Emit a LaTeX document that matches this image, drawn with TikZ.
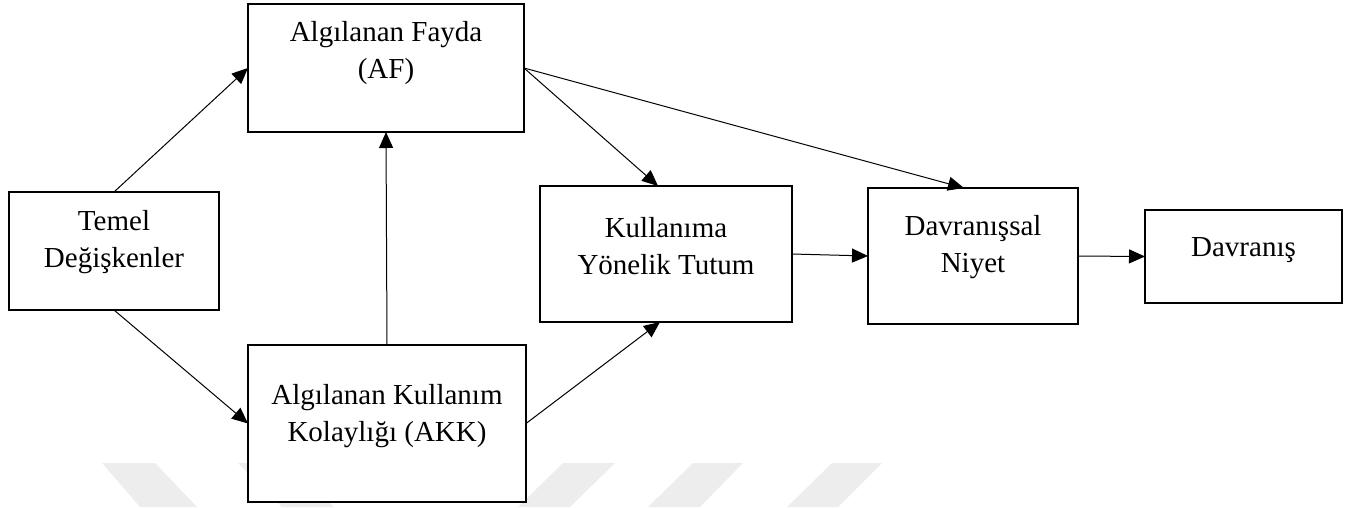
\documentclass[tikz,border=0pt]{standalone}
\usepackage{fontspec}
\setmainfont{Liberation Serif}
\usetikzlibrary{arrows.meta}
\begin{document}
\begin{tikzpicture}[x=1pt,y=1pt,
  box/.style={draw=black,line width=1.5pt,fill=white,rectangle,inner sep=0pt,outer sep=0pt},
  txt/.style={align=center,inner sep=0pt,font=\fontsize{29pt}{37pt}\selectfont},
  conn/.style={line width=1pt,-{Triangle[length=16pt,width=14pt]}},
  wmark/.style={fill=black!7,draw=none}]
\useasboundingbox (0,0) rectangle (1354,-507);
% faint watermark
\fill[wmark] (102,-463) -- (155,-463) -- (197,-507) -- (140,-507) -- cycle;
\fill[wmark] (238,-463) -- (290,-463) -- (334,-507) -- (282,-507) -- cycle;
\fill[wmark] (563,-463) -- (615,-463) -- (570,-507) -- (518,-507) -- cycle;
\fill[wmark] (693,-463) -- (743,-463) -- (700,-507) -- (648,-507) -- cycle;
\fill[wmark] (832,-463) -- (882,-463) -- (838,-507) -- (787,-507) -- cycle;
% boxes
\node[box,minimum width=210pt,minimum height=118pt] (tem) at (114,-251) {};
\node[box,minimum width=276pt,minimum height=128pt] (af) at (386,-68) {};
\node[box,minimum width=278pt,minimum height=157pt] (akk) at (387,-423.5) {};
\node[box,minimum width=252pt,minimum height=136pt] (kul) at (666,-254) {};
\node[box,minimum width=210pt,minimum height=136pt] (dn) at (973,-256) {};
\node[box,minimum width=197pt,minimum height=93pt] (dv) at (1243.5,-256.5) {};
% texts
\node[txt] (temt) at (114,-242.5) {Temel\\Değişkenler};
\node[txt] (aft) at (386,-53.5) {Algılanan Fayda\\(AF)};
\node[txt] (akkt) at (387,-416.5) {Algılanan Kullanım\\Kolaylığı (AKK)};
\node[txt] (kult) at (666,-246) {Kullanıma\\Yönelik Tutum};
\node[txt] (dnt) at (973,-247) {Davranışsal\\Niyet};
\node[txt,anchor=base] (dvt) at (1243.5,-256) {Davranış};
% connectors
\draw[conn] (tem.north) -- (af.west);
\draw[conn] (tem.south) -- (akk.west);
\draw[conn] (akk.north) -- (af.south);
\draw[conn] (af.east) -- ([xshift=-8pt]kul.north);
\draw[conn] (af.east) -- ([xshift=-9pt]dn.north);
\draw[conn] (akk.east) -- ([xshift=-6pt]kul.south);
\draw[conn] (kul.east) -- (dn.west);
\draw[conn] (dn.east) -- (dv.west);
\end{tikzpicture}
\end{document}
